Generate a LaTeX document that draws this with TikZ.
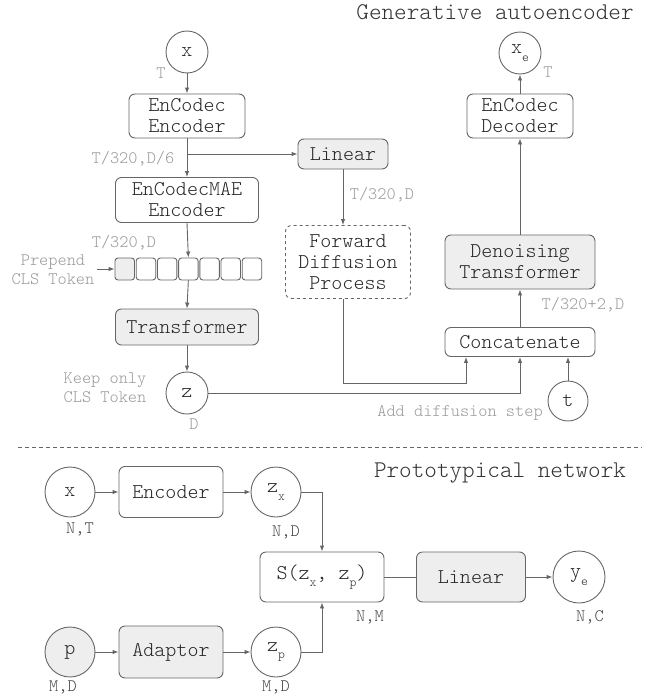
\documentclass[tikz,border=0pt]{standalone}
\usepackage{fontspec}
\setmainfont{Latin Modern Mono Light}
\usetikzlibrary{arrows.meta}

\definecolor{linegray}{HTML}{666666}
\definecolor{boxfill}{HTML}{EEEEEE}
\definecolor{labgray}{HTML}{999999}
\definecolor{labdark}{HTML}{444444}
\newcommand{\lowsub}[1]{\raisebox{-0.8ex}{\fontsize{13}{13}\selectfont #1}}

\begin{document}
\begin{tikzpicture}[x=1pt,y=-1pt]
                \tikzset{blk/.style={draw=linegray, line width=0.9pt, rounded corners=6pt, align=center,
                inner sep=0pt, text=black!85, font=\fontsize{21}{21}\selectfont},
                gblk/.style={blk, fill=boxfill},
                var/.style={circle, draw=linegray, line width=0.9pt, inner sep=0pt, minimum size=42pt,
                text=black!85, font=\fontsize{21}{21}\selectfont},
                lbl/.style={text=labgray, align=center, inner sep=0pt, font=\fontsize{17.5}{19}\selectfont},
                dlbl/.style={lbl, text=labdark},
                ttl/.style={text=black!80, inner sep=0pt, font=\fontsize{24}{24}\selectfont},
                arr/.style={draw=linegray, line width=0.9pt, -{Latex[length=6pt,width=4.5pt]}},
                ln/.style={draw=linegray, line width=0.9pt}}

                \useasboundingbox (0,0) rectangle (652,696);

                % generative autoencoder
                \node[ttl] (gtitle) at (495,12) {Generative autoencoder};
                \node[var] (x) at (187,52) {x};
                \node[blk, minimum width=116pt, minimum height=44pt] (enc) at (187,116) {EnCodec\\Encoder};
                \node[blk, minimum width=143pt, minimum height=45pt] (mae) at (187,200) {EnCodecMAE\\Encoder};
                \node[blk, fill=boxfill, rounded corners=3pt, minimum width=19.5pt, minimum height=22pt] (tok1) at (124.75,269) {};
                \foreach \i in {2,...,7}
                    \node[blk, rounded corners=3pt, minimum width=19.5pt, minimum height=22pt] (tok\i) at ({124.75+21.2*(\i-1)},269) {};
                \node[gblk, minimum width=143pt, minimum height=36pt] (trf) at (187,327) {Transformer};
                \node[var] (z) at (187,393) {z};
                \node[gblk, minimum width=90pt, minimum height=30pt] (lin) at (343,154) {Linear};
                \node[blk, dashed, minimum width=125pt, minimum height=73pt] (fwd) at (348,262) {Forward\\Diffusion\\Process};
                \node[var] (xe) at (520,53) {x\lowsub{e}};
                \node[blk, minimum width=106pt, minimum height=44pt] (dec) at (520,116) {EnCodec\\Decoder};
                \node[gblk, minimum width=150pt, minimum height=54pt] (den) at (520,262) {Denoising\\Transformer};
                \node[blk, minimum width=150pt, minimum height=29pt] (cat) at (520,342) {Concatenate};
                \node[var, minimum size=40pt] (t) at (568,401) {t};

                \node[lbl] (lx) at (161,73) {T};
                \node[lbl] (lxe) at (548,72) {T};
                \node[lbl] (lenc) at (133,159) {T/320,D/6};
                \node[lbl] (lmae) at (124,243) {T/320,D};
                \node[lbl] (llin) at (382,195) {T/320,D};
                \node[lbl] (lpre) at (53,270) {Prepend\\CLS Token};
                \node[lbl] (lkeep) at (105,388) {Keep only\\CLS Token};
                \node[lbl] (lz) at (194,424) {D};
                \node[lbl] (lden) at (583,305) {T/320+2,D};
                \node[lbl] (lt) at (460,413) {Add diffusion step};

                \coordinate (split) at (enc.south |- lin.west);
                \coordinate (pre) at (97,269);

                \draw[arr] (x) -- (enc);
                \draw[arr] (enc) -- (mae);
                \draw[arr] (split) -- (lin);
                \draw[arr] (mae.south) -- (tok4.north);
                \draw[arr] (pre) -- (tok1);
                \draw[arr] (tok4.south) -- (trf.north);
                \draw[arr] (trf) -- (z);
                \draw[arr] (lin.south) -- (lin.south |- fwd.north);
                \draw[arr] (fwd.south -| lin.south) |- ([xshift=-54pt,yshift=-26pt]cat.south) -- ([xshift=-54pt]cat.south);
                \draw[arr] (z) -| (cat.south);
                \draw[arr] (t) -- (t.north |- cat.south);
                \draw[arr] (cat) -- (den);
                \draw[arr] (den) -- (dec);
                \draw[arr] (dec) -- (xe);

                \draw[ln, dash pattern=on 4pt off 3pt] (18,447) -- (642,447);

                % prototypical network
                \node[ttl] (ptitle) at (500,473) {Prototypical network};
                \node[var, minimum size=50pt] (xp) at (70,492) {x};
                \node[blk, minimum width=104pt, minimum height=51pt] (encp) at (171,492) {Encoder};
                \node[var, minimum size=50pt] (zx) at (276,492) {z\lowsub{x}};
                \node[blk, minimum width=124pt, minimum height=50pt] (sim) at (322,577) {S(z\lowsub{x}, z\lowsub{p})};
                \node[gblk, minimum width=109pt, minimum height=50pt] (linp) at (471,577) {Linear};
                \node[var, minimum size=52pt] (ye) at (579,577) {y\lowsub{e}};
                \node[var, minimum size=50pt, fill=boxfill] (p) at (70,652) {p};
                \node[gblk, minimum width=104pt, minimum height=52pt] (adp) at (171,652) {Adaptor};
                \node[var, minimum size=50pt] (zp) at (276,652) {z\lowsub{p}};

                \node[dlbl] (lxp) at (80,529) {N,T};
                \node[dlbl] (lzx) at (286,532) {N,D};
                \node[dlbl] (lsim) at (370,617) {N,M};
                \node[dlbl] (lye) at (590,617) {N,C};
                \node[dlbl] (lp) at (63,687) {M,D};
                \node[dlbl] (lzp) at (276,687) {M,D};

                \draw[arr] (xp) -- (encp);
                \draw[arr] (encp) -- (zx);
                \draw[arr] (zx) -| (sim);
                \draw[arr] (p) -- (adp);
                \draw[arr] (adp) -- (zp);
                \draw[arr] (zp) -| (sim);
                \draw[ln] (sim) -- (linp);
                \draw[arr] (linp) -- (ye);
\end{tikzpicture}
\end{document}
